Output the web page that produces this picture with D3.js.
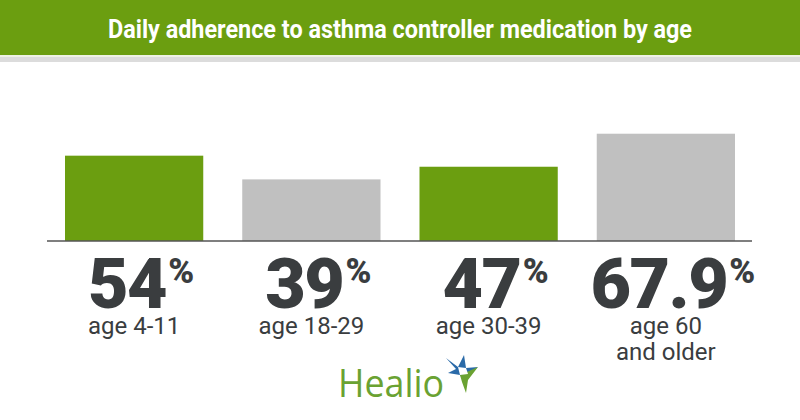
<!DOCTYPE html>
<html><head><meta charset="utf-8">
<script src="https://cdn.jsdelivr.net/npm/d3@7"></script>
<style>body{margin:0;background:#fff}svg{display:block}</style>
</head><body>
<script>
const title = "Daily adherence to asthma controller medication by age";
const categories = ["age 4-11", "age 18-29", "age 30-39", "age 60|and older"];
const values = [54, 39, 47, 67.9];
const valueLabels = ["54", "39", "47", "67.9"];
const barColors = ["#6b9e10", "#c0c0c0", "#6b9e10", "#c0c0c0"];

const W = 800, H = 420;
const svg = d3.select("body").append("svg").attr("width", W).attr("height", H);

// header
svg.append("rect").attr("x",0).attr("y",0).attr("width",W).attr("height",55).attr("fill","#6b9e10");
svg.append("rect").attr("x",0).attr("y",55).attr("width",W).attr("height",2).attr("fill","#eef2e4");
svg.append("rect").attr("x",0).attr("y",57).attr("width",W).attr("height",5).attr("fill","#dcdcdc");
svg.append("text").attr("x",400).attr("y",38).attr("text-anchor","middle")
  .attr("fill","#fff").attr("font-family","'Liberation Sans Narrow','Roboto',sans-serif")
  .attr("font-weight","bold").attr("font-size",25)
  .attr("textLength",584).attr("lengthAdjust","spacingAndGlyphs").text(title);

// scales
const x = d3.scaleBand().domain(categories).range([65, 735]).paddingInner(0.22).paddingOuter(0);
const baseY = 241;
const y = d3.scaleLinear().domain([0, 100]).range([baseY, baseY - 158]);

svg.selectAll("rect.bar").data(values).join("rect").attr("class","bar")
  .attr("x",(d,i)=>x(categories[i])).attr("width",x.bandwidth())
  .attr("y",d=>y(d)).attr("height",d=>baseY - y(d)).attr("fill",(d,i)=>barColors[i]);

svg.append("line").attr("x1",47).attr("x2",752).attr("y1",baseY).attr("y2",baseY)
  .attr("stroke","#555").attr("stroke-width",1.5);

// value labels
const g = svg.selectAll("g.lab").data(categories).join("g").attr("class","lab")
  .attr("transform",d=>`translate(${x(d)+x.bandwidth()/2},0)`);
const t = g.append("text").attr("x",7).attr("y",308).attr("text-anchor","middle")
  .attr("font-family","Roboto,sans-serif").attr("font-weight",900).attr("fill","#3a3d3f");
t.append("tspan").attr("font-size",70).attr("letter-spacing",-1.5).text((d,i)=>valueLabels[i]);
t.append("tspan").attr("font-size",35).attr("dy",-25).attr("dx",2).text("%");

g.each(function(d){
  const lines = d.split("|");
  const tx = d3.select(this).append("text").attr("text-anchor","middle")
    .attr("font-family","Roboto,sans-serif").attr("font-size",24).attr("fill","#3a3d3f");
  lines.forEach((l,j)=>tx.append("tspan").attr("x",0).attr("y",334+j*26).text(l));
});

// logo
svg.append("text").attr("x",338).attr("y",397).attr("font-family","'Open Sans',sans-serif")
  .attr("font-size",38).attr("fill","#6aa232").attr("textLength",106).attr("lengthAdjust","spacingAndGlyphs").text("Healio");
const logo = svg.append("g");
logo.append("path").attr("d","M446,358 L458,367 L464,355 L466,368 L478,367 L468,374 L465,384 L460,375 L448,373 L456,369 Z").attr("fill","#2a6aa8");
logo.append("path").attr("d","M460,375 L478,367 L468,380 L466,393 L462,382 Z").attr("fill","#6aa232");
logo.append("path").attr("d","M458,367 L466,368 L468,374 L460,375 Z").attr("fill","#fff");
</script>
</body></html>
